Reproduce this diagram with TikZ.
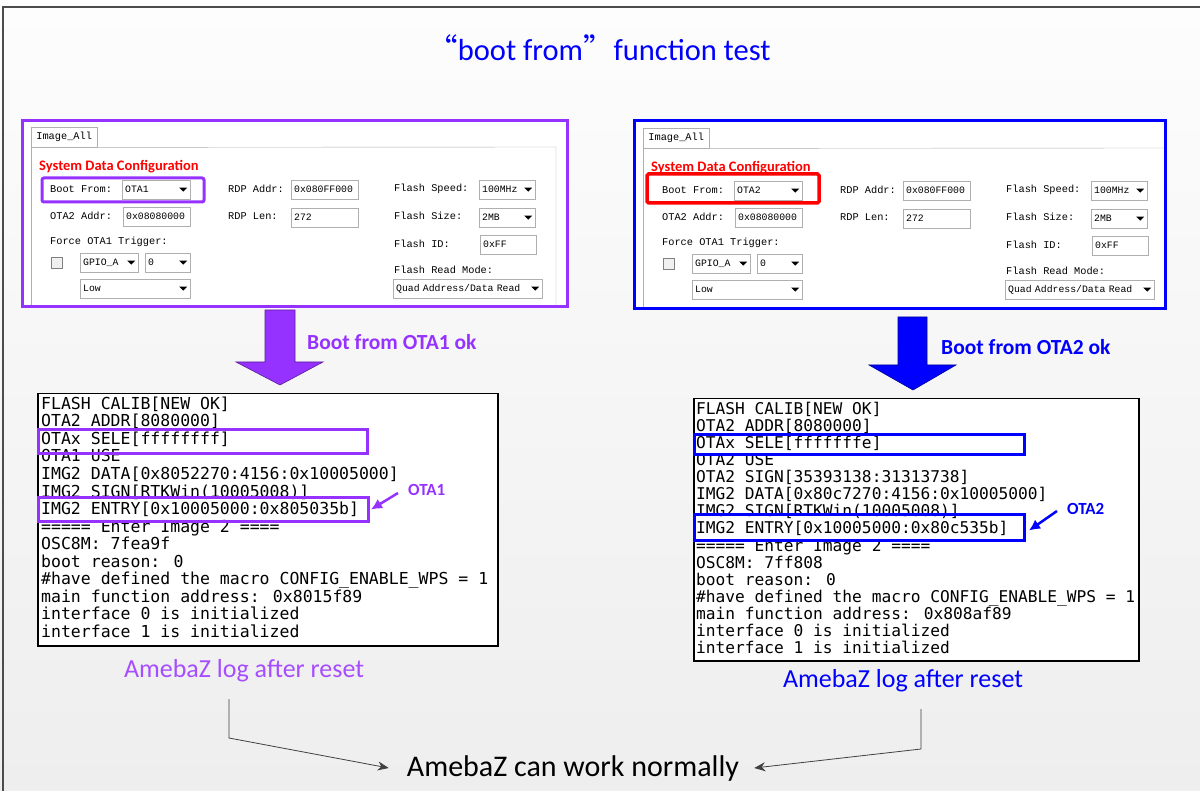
\documentclass[tikz,border=0pt]{standalone}
\usepackage{fontspec}
\setmainfont{Carlito}
\newfontfamily\logfont{DejaVu Sans Mono}
\newfontfamily\uifont{Liberation Mono}
\newfontfamily\cjk{Noto Sans CJK SC}
\usetikzlibrary{arrows.meta}
\usetikzlibrary{positioning}
\usetikzlibrary{calc}
\tikzset{>={Latex[length=2mm]}}
\definecolor{otapurple}{RGB}{150,50,255}
\definecolor{otablue}{RGB}{0,0,255}
\definecolor{capurple}{RGB}{166,77,255}
\definecolor{uigray}{RGB}{175,175,175}
\definecolor{flowgray}{RGB}{64,64,64}
\definecolor{cfgred}{RGB}{255,0,0}
\tikzset{
    uilabel/.style={anchor=west, inner sep=0pt, font=\uifont\fontsize{10.3}{11}\selectfont},
    field/.style={draw=uigray, fill=white, anchor=north west, inner xsep=3pt, inner ysep=0pt,
        minimum height=19pt, text width=#1, align=left, font=\uifont\fontsize{9.8}{11}\selectfont},
    combo/.style={field=#1, path picture={
        \fill[black] ([xshift=-11pt,yshift=2pt]path picture bounding box.east) -- ++(8pt,0pt) -- ++(-4pt,-4pt) -- cycle;}},
    logbox/.style={draw=black, line width=1.5pt, fill=white, anchor=north west, inner sep=0pt},
    logline/.style={anchor=base west, inner sep=0pt},
    mark box/.style={draw=#1, line width=3pt, anchor=north west, inner sep=0pt},
    okcaption/.style={anchor=west, inner sep=0pt, text=#1, font=\bfseries\fontsize{21.5}{22}\selectfont},
    otacaption/.style={anchor=west, inner sep=0pt, text=#1, font=\bfseries\fontsize{17}{18}\selectfont},
    logcaption/.style={text=#1, inner sep=0pt, font=\fontsize{26}{27}\selectfont},
    flow/.style={->, draw=flowgray, line width=0.8pt, >={Stealth[length=11pt,width=9pt]}},
    pointer/.style={->, draw=#1, line width=2.5pt, >={Latex[length=11pt,width=11pt]}},
}
% Syntax: [name prefix] (shift) {boot value} {right edge of tab panel}
\def\configpanel[#1](#2)#3#4{%
    \begin{scope}[shift={(#2)}]
    \node[draw=uigray, fill=white, anchor=north west, minimum width=66pt, minimum height=20pt,
        inner sep=0pt, font=\uifont\fontsize{10.3}{11}\selectfont] (#1tab) at (31,127) {Image\_All};
    \draw[uigray] (#1tab.south east) -- (#4,147) -- (#4,306);
    \draw[uigray] (#1tab.south west) -- (31,306);
    \node[anchor=west, inner sep=0pt, text=cfgred, font=\bfseries\fontsize{14.5}{15}\selectfont] (#1sdc) at (39,167) {System Data Configuration};
    % left column
    \node[uilabel] (#1bootlbl) at (50,189) {Boot From:};
    \node[combo=62pt] (#1boot) at (122,180) {#3};
    \node[uilabel] (#1addrlbl) at (50,216) {OTA2 Addr:};
    \node[field=61pt] (#1addr) at (123,207) {0x08080000};
    \node[uilabel] (#1forcelbl) at (50,242) {Force OTA1 Trigger:};
    \node[draw=gray, fill=gray!12, anchor=north west, minimum size=11pt, inner sep=0pt] (#1chk) at (51,257) {};
    \node[combo=52pt] (#1gpio) at (80,253) {GPIO\_A};
    \node[combo=39pt] (#1pin) at (145,253) {0};
    \node[combo=104pt] (#1level) at (80,279) {Low};
    % middle column
    \node[uilabel] (#1rdpalbl) at (228,189) {RDP Addr:};
    \node[field=61pt] (#1rdpa) at (291,180) {0x080FF000};
    \node[uilabel] (#1rdpllbl) at (228,216) {RDP Len:};
    \node[field=61pt] (#1rdpl) at (291,208) {272};
    % right column
    \node[uilabel] (#1speedlbl) at (394,189) {Flash Speed:};
    \node[combo=50pt] (#1speed) at (479,180) {100MHz};
    \node[uilabel] (#1sizelbl) at (394,216) {Flash Size:};
    \node[combo=50pt] (#1size) at (479,208) {2MB};
    \node[uilabel] (#1idlbl) at (394,244) {Flash ID:};
    \node[field=50pt] (#1id) at (480,235) {0xFF};
    \node[uilabel] (#1modelbl) at (394,270) {Flash Read Mode:};
    \node[combo=143pt] (#1mode) at (393,279) {Quad Address/Data Read};
    \end{scope}}

\begin{document}
\begin{tikzpicture}[x=1pt, y=-1pt]
    \useasboundingbox (0,0) rectangle (1200,791);
    \shade[top color={rgb,255:red,253;green,253;blue,253}, bottom color={rgb,255:red,238;green,238;blue,238}] (0,0) rectangle (1200,791);
    \draw[gray!60!black, line width=1.2pt] (3,791) -- (3,7) -- (1200,7);

    \node[text=otablue, inner sep=0pt, font=\fontsize{30.5}{31}\selectfont] (title) at (599,48) {{\cjk “}boot from{\cjk ”}function test};

    % the two configuration screenshots
    \fill[white] (22,121) rectangle (567,307);
    \fill[white] (634,121) rectangle (1165,309);
    \configpanel[L](0,0){OTA1}{556}
    \configpanel[R](612,1){OTA2}{553}
    \draw[otapurple, line width=3pt] (22,121) rectangle (567,307);
    \draw[otablue, line width=3pt] (634,121) rectangle (1165,309);
    \draw[otapurple, line width=3pt, rounded corners=2pt] (42,178) rectangle (204,202);
    \draw[cfgred, line width=3.5pt, rounded corners=1.5pt] (647,174) rectangle (819,203);

    % block arrows
    \filldraw[fill=otapurple, draw=otapurple!60!black, line width=0.6pt] (265,310) -- (295,310) -- (295,362) -- (323,362) -- (280,385) -- (236,362) -- (265,362) -- cycle;
    \filldraw[fill=otablue, draw=otablue!60!black, line width=0.6pt] (898,317) -- (927,317) -- (927,365) -- (956,365) -- (913,390) -- (869,365) -- (898,365) -- cycle;
    \node[okcaption=otapurple] (okL) at (307,342) {Boot from OTA1 ok};
    \node[okcaption=otablue] (okR) at (941,347) {Boot from OTA2 ok};

    % logs
    \node[logbox, minimum width=460pt, minimum height=252pt] (boxL) at (37,393) {};
    \foreach \txt [count=\k] in {FLASH CALIB[NEW OK], OTA2 ADDR[8080000], OTAx SELE[ffffffff], OTA1 USE,
        IMG2 DATA[0x8052270:4156:0x10005000], IMG2 SIGN[RTKWin(10005008)], IMG2 ENTRY[0x10005000:0x805035b],
        ===== Enter Image 2 ====, OSC8M: 7fea9f, boot reason: 0, \#have defined the macro CONFIG\_ENABLE\_WPS = 1,
        main function address: 0x8015f89, interface 0 is initialized, interface 1 is initialized}
        \node[logline, font=\logfont\fontsize{16.5}{17.5}\selectfont] (logL\k) at (41,{409.5+17.5*(\k-1)}) {\txt};
    \node[mark box=otapurple, minimum width=329pt, minimum height=24pt] (seleL) at (37,428) {};
    \node[mark box=otapurple, minimum width=330pt, minimum height=24pt] (entL) at (37,496) {};
    \node[otacaption=otapurple] (ota1) at (408,490) {OTA1};
    \draw[pointer=otapurple] ([xshift=-10pt,yshift=-3pt]ota1.west) -- ([xshift=1pt]entL.east);

    \node[logbox, minimum width=445pt, minimum height=262pt] (boxR) at (693,398) {};
    \foreach \txt [count=\k] in {FLASH CALIB[NEW OK], OTA2 ADDR[8080000], OTAx SELE[fffffffe], OTA2 USE,
        OTA2 SIGN[35393138:31313738], IMG2 DATA[0x80c7270:4156:0x10005000], IMG2 SIGN[RTKWin(10005008)],
        IMG2 ENTRY[0x10005000:0x80c535b], ===== Enter Image 2 ====, OSC8M: 7ff808, boot reason: 0,
        \#have defined the macro CONFIG\_ENABLE\_WPS = 1, main function address: 0x808af89,
        interface 0 is initialized, interface 1 is initialized}
        \node[logline, font=\logfont\fontsize{16.2}{17}\selectfont] (logR\k) at (696,{414.5+17.07*(\k-1)}) {\txt};
    \node[mark box=otablue, minimum width=330pt, minimum height=20pt] (seleR) at (693,433) {};
    \node[mark box=otablue, minimum width=330pt, minimum height=26pt] (entR) at (693,513) {};
    \node[otacaption=otablue] (ota2) at (1067,509) {OTA2};
    \draw[pointer=otablue] ([xshift=-10pt,yshift=-2pt]ota2.west) -- ([xshift=3pt,yshift=-3pt]entR.east);

    % result
    \node[logcaption=capurple] (capL) at (244,671) {AmebaZ log after reset};
    \node[logcaption=otablue] (capR) at (903,681) {AmebaZ log after reset};
    \node[inner sep=0pt, font=\fontsize{30}{31}\selectfont] (done) at (573,768) {AmebaZ can work normally};
    \coordinate (lstart) at (229,699);
    \coordinate (lbend) at (229,738);
    \coordinate (rstart) at (921,709);
    \coordinate (rbend) at (921,749);
    \draw[flow] (lstart) -- (lbend) -- ([xshift=-18pt]done.west);
    \draw[flow] (rstart) -- (rbend) -- ([xshift=15pt]done.east);
\end{tikzpicture}
\end{document}
